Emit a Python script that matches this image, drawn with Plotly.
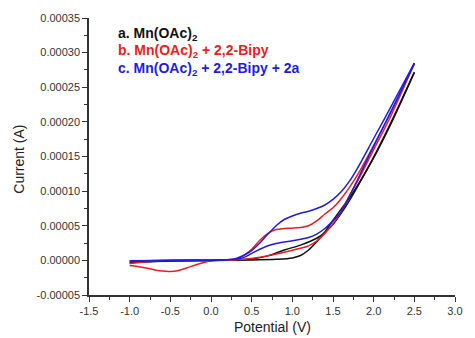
import plotly.graph_objects as go

# Cyclic voltammograms: potential (V) vs current (A), each a forward and a reverse sweep.
# Current values below are in units of 1e-5 A.

# a. Mn(OAc)2
a_fwd_v = [-1.0, -0.8, -0.5, 0.0, 0.3, 0.5, 0.7, 0.9, 1.1, 1.3, 1.4, 1.5, 1.6, 1.7, 1.8, 2.0, 2.2, 2.5]
a_fwd_i = [-0.3, -0.2, -0.05, 0.0, 0.05, 0.2, 0.65, 1.5, 2.2, 3.2, 4.0, 5.2, 6.8, 8.6, 10.6, 14.9, 19.6, 27.2]
a_rev_v = [2.5, 2.2, 2.0, 1.8, 1.7, 1.6, 1.5, 1.4, 1.3, 1.2, 1.1, 1.0, 0.8, 0.5, 0.0, -0.5, -0.8, -1.0]
a_rev_i = [27.1, 19.4, 14.8, 10.8, 9.0, 7.4, 5.8, 4.1, 2.7, 1.5, 0.7, 0.35, 0.15, 0.05, 0.0, -0.1, -0.2, -0.3]

# b. Mn(OAc)2 + 2,2-Bipy
b_fwd_v = [-1.0, -0.8, -0.6, 0.0, 0.2, 0.3, 0.4, 0.5, 0.6, 0.7, 0.8, 0.9, 1.0, 1.1, 1.2, 1.3, 1.4, 1.5, 1.6, 1.7, 1.8, 2.0, 2.2, 2.5]
b_fwd_i = [-0.45, -0.2, 0.0, 0.0, 0.03, 0.1, 0.7, 1.6, 2.9, 3.9, 4.45, 4.6, 4.65, 4.75, 5.0, 5.7, 6.7, 7.6, 8.9, 10.5, 12.3, 16.6, 21.1, 28.5]
b_rev_v = [2.5, 2.2, 2.0, 1.8, 1.7, 1.6, 1.5, 1.4, 1.3, 1.2, 1.1, 1.0, 0.8, 0.6, 0.4, 0.2, 0.0, -0.1, -0.2, -0.3, -0.4, -0.5, -0.6, -0.7, -0.8, -0.9, -1.0]
b_rev_i = [28.4, 20.6, 16.0, 11.4, 9.3, 7.0, 5.3, 3.9, 2.8, 2.1, 1.75, 1.45, 0.9, 0.45, 0.15, 0.03, -0.05, -0.35, -0.7, -1.1, -1.45, -1.6, -1.55, -1.35, -1.1, -0.9, -0.75]

# c. Mn(OAc)2 + 2,2-Bipy + 2a
c_fwd_v = [-1.0, -0.7, -0.3, 0.0, 0.2, 0.3, 0.4, 0.5, 0.6, 0.7, 0.8, 0.9, 1.0, 1.1, 1.2, 1.3, 1.4, 1.5, 1.6, 1.7, 1.8, 2.0, 2.2, 2.5]
c_fwd_i = [-0.1, 0.0, 0.05, 0.05, 0.1, 0.25, 0.7, 1.4, 2.5, 3.8, 5.0, 5.9, 6.4, 6.8, 7.1, 7.5, 8.0, 8.8, 9.9, 11.4, 13.3, 17.6, 21.9, 28.5]
c_rev_v = [2.5, 2.2, 2.0, 1.8, 1.7, 1.6, 1.5, 1.4, 1.3, 1.2, 1.0, 0.8, 0.7, 0.6, 0.5, 0.4, 0.3, 0.0, -0.5, -1.0]
c_rev_i = [28.4, 21.2, 16.5, 11.6, 9.2, 7.0, 5.7, 4.6, 3.8, 3.3, 2.85, 2.45, 2.1, 1.6, 1.0, 0.4, 0.15, 0.0, 0.0, -0.05]

x_ticks = [-1.5, -1.0, -0.5, 0.0, 0.5, 1.0, 1.5, 2.0, 2.5, 3.0]
x_labels = ["-1.5", "-1.0", "-0.5", "0.0", "0.5", "1.0", "1.5", "2.0", "2.5", "3.0"]
y_ticks = [-0.00005, 0.0, 0.00005, 0.0001, 0.00015, 0.0002, 0.00025, 0.0003, 0.00035]
y_labels = ["-0.00005", "0.00000", "0.00005", "0.00010", "0.00015", "0.00020", "0.00025", "0.00030", "0.00035"]

legend_lines = [
    ("a. Mn(OAc)<sub>2</sub>", "#111111"),
    ("b. Mn(OAc)<sub>2</sub> + 2,2-Bipy", "#ee1c1c"),
    ("c. Mn(OAc)<sub>2</sub> + 2,2-Bipy + 2a", "#1c1ce6"),
]

SCALE = 1e-5
FONT = "Liberation Sans, Arial, sans-serif"

fig = go.Figure()
series = [
    (a_fwd_v, a_fwd_i, a_rev_v, a_rev_i, legend_lines[0][1]),
    (b_fwd_v, b_fwd_i, b_rev_v, b_rev_i, legend_lines[1][1]),
    (c_fwd_v, c_fwd_i, c_rev_v, c_rev_i, legend_lines[2][1]),
]
for fv, fi, rv, ri, color in series:
    for vv, ii in ((fv, fi), (rv, ri)):
        fig.add_trace(go.Scatter(
            x=vv, y=[v * SCALE for v in ii], mode="lines",
            line=dict(color=color, width=1.5, shape="spline", smoothing=0.9),
            showlegend=False, hoverinfo="skip",
        ))

axis_common = dict(
    showline=True, linecolor="#333333", linewidth=1.5, mirror=False,
    showgrid=False, zeroline=False,
    ticks="outside", ticklen=5, tickwidth=1.3, tickcolor="#333333",
    tickfont=dict(family=FONT, size=11, color="#333333"),
)

fig.update_xaxes(
    range=[-1.5, 3.0], tickmode="array", tickvals=x_ticks, ticktext=x_labels,
    minor=dict(ticks="outside", ticklen=3, tickwidth=1.2, tickcolor="#333333", dtick=0.25, tick0=-1.5),
    **axis_common,
)
fig.update_yaxes(
    range=[-0.00005, 0.00035], tickmode="array", tickvals=y_ticks, ticktext=y_labels,
    minor=dict(ticks="outside", ticklen=3, tickwidth=1.2, tickcolor="#333333", dtick=0.000025, tick0=0),
    **axis_common,
)

annotations = []
for k, (txt, color) in enumerate(legend_lines):
    annotations.append(dict(
        text=f"<b>{txt}</b>", x=0.074, y=0.942 - k * 0.0625, xref="paper", yref="paper",
        xanchor="left", yanchor="middle", showarrow=False,
        font=dict(family=FONT, size=14, color=color),
    ))
annotations.append(dict(
    text="Potential (V)", x=0.5, y=-0.115, xref="paper", yref="paper",
    xanchor="center", yanchor="middle", showarrow=False,
    font=dict(family=FONT, size=14, color="#222222"),
))
annotations.append(dict(
    text="Current (A)", x=-0.19, y=0.49, xref="paper", yref="paper",
    xanchor="center", yanchor="middle", showarrow=False, textangle=-90,
    font=dict(family=FONT, size=14, color="#222222"),
))

fig.update_layout(
    width=475, height=338,
    margin=dict(l=89, r=12, t=17, b=43),
    plot_bgcolor="white", paper_bgcolor="white",
    annotations=annotations,
)

fig.write_html("out.html")
